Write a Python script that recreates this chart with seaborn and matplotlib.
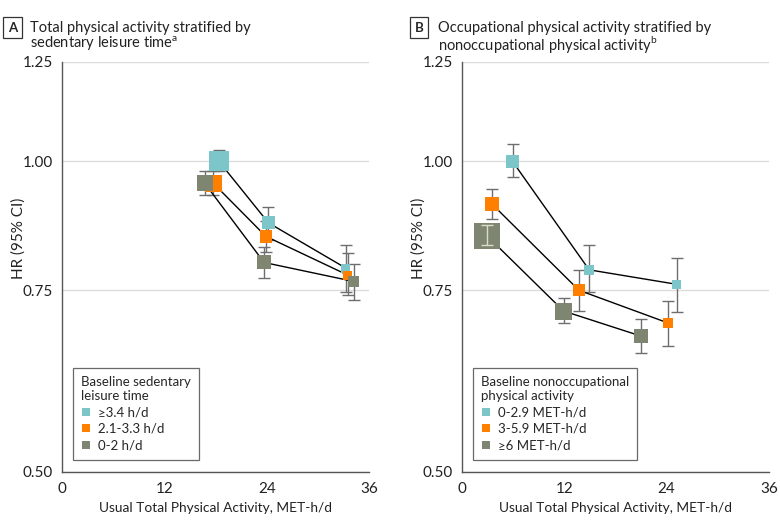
"""Hazard ratios by usual physical activity, two stratified panels."""

import matplotlib
matplotlib.use("Agg")
import matplotlib.pyplot as plt
from matplotlib.lines import Line2D
from matplotlib.ticker import FixedLocator, FixedFormatter, NullLocator
import pandas as pd
import seaborn as sns

# ---- Panel A: total physical activity by sedentary leisure time ----
a_groups = ["≥3.4 h/d", "2.1-3.3 h/d", "0-2 h/d"]
a_x = [
    [18.4, 24.2, 33.3],
    [17.7, 23.9, 33.5],
    [16.7, 23.7, 34.2],
]
a_hr = [
    [1.00, 0.872, 0.788],
    [0.953, 0.846, 0.776],
    [0.953, 0.798, 0.765],
]
a_lo = [
    [0.978, 0.840, 0.747],
    [0.927, 0.817, 0.742],
    [0.927, 0.771, 0.734],
]
a_hi = [
    [1.025, 0.904, 0.830],
    [0.979, 0.875, 0.815],
    [0.979, 0.826, 0.795],
]
a_weight = [  # relative weight, drawn as marker side
    [20, 13, 9],
    [17, 12.5, 9],
    [16, 14, 11],
]

# ---- Panel B: occupational activity by nonoccupational activity ----
b_groups = ["0-2.9 MET-h/d", "3-5.9 MET-h/d", "≥6 MET-h/d"]
b_x = [
    [5.9, 14.9, 25.2],
    [3.5, 13.7, 24.2],
    [2.9, 11.9, 21.0],
]
b_hr = [
    [1.00, 0.785, 0.760],
    [0.909, 0.750, 0.697],
    [0.847, 0.716, 0.677],
]
b_lo = [
    [0.966, 0.747, 0.715],
    [0.880, 0.716, 0.662],
    [0.829, 0.697, 0.652],
]
b_hi = [
    [1.040, 0.829, 0.806],
    [0.941, 0.784, 0.733],
    [0.868, 0.737, 0.703],
]
b_weight = [
    [13, 10, 9],
    [14, 12, 10],
    [26, 17, 14],
]

colors = ["#7cc5c9", "#ff7f00", "#7e8570"]
y_ticks = [0.50, 0.75, 1.00, 1.25]
x_ticks = [0, 12, 24, 36]


def build_frame(groups, xs, hrs, los, his, weights):
    rows = []
    for g, name in enumerate(groups):
        for i in range(len(xs[g])):
            rows.append({
                "group": name, "x": xs[g][i], "hr": hrs[g][i],
                "lo": los[g][i], "hi": his[g][i],
                # marker side in px -> scatter area in pt^2
                "area": (weights[g][i] * 0.72) ** 2,
            })
    return pd.DataFrame(rows)


def draw_panel(ax, df, groups, legend_title):
    for name in groups:
        sub = df[df["group"] == name]
        ax.errorbar(sub["x"], sub["hr"],
                    yerr=[sub["hr"] - sub["lo"], sub["hi"] - sub["hr"]],
                    fmt="none", ecolor="#6e6e6e", elinewidth=1.0,
                    capsize=4, capthick=1.0, zorder=2)
    sns.lineplot(data=df, x="x", y="hr", units="group", estimator=None,
                 color="black", lw=1.0, sort=False, ax=ax, zorder=3)
    amin, amax = df["area"].min(), df["area"].max()
    sns.scatterplot(data=df, x="x", y="hr", hue="group", hue_order=groups,
                    palette=colors, size="area", sizes=(amin, amax),
                    size_norm=(amin, amax), marker="s", linewidth=0,
                    alpha=1, legend=False, ax=ax, zorder=4)

    ax.set_yscale("log")
    ax.set_ylim(0.5, 1.25)
    ax.set_xlim(0, 36)
    ax.yaxis.set_major_locator(FixedLocator(y_ticks))
    ax.yaxis.set_major_formatter(FixedFormatter([f"{t:.2f}" for t in y_ticks]))
    ax.yaxis.set_minor_locator(NullLocator())
    ax.set_xticks(x_ticks)
    ax.set_xticklabels([str(t) for t in x_ticks])
    ax.grid(axis="y", color="#dcdcdc", lw=1.0)
    ax.grid(axis="x", visible=False)
    ax.set_axisbelow(True)
    for s in ["top", "right"]:
        ax.spines[s].set_visible(False)
    for s in ["left", "bottom"]:
        ax.spines[s].set_color("#555555")
        ax.spines[s].set_linewidth(1.0)
    ax.tick_params(axis="both", colors="#555555", labelcolor="#222222",
                   length=5, width=1.0, labelsize=11, direction="out", pad=2)
    ax.set_xlabel("Usual Total Physical Activity, MET-h/d", fontsize=9.9,
                  color="#222222", labelpad=5)
    ax.set_ylabel("HR (95% CI)", fontsize=11, color="#222222")
    ax.yaxis.set_label_coords(-0.12, 0.57)

    handles = [Line2D([], [], marker="s", ls="none", markersize=6,
                      markerfacecolor=c, markeredgewidth=0, label=g)
               for g, c in zip(groups, colors)]
    leg = ax.legend(handles=handles, title=legend_title, loc="lower left",
                    bbox_to_anchor=(0.035, 0.03), frameon=True, fancybox=False,
                    edgecolor="#444444", fontsize=9.5, title_fontsize=9.5,
                    handlelength=0.7, handletextpad=0.6, labelspacing=0.35,
                    borderpad=0.6, borderaxespad=0.0, alignment="left")
    leg.get_frame().set_linewidth(0.9)
    leg.get_title().set_linespacing(1.15)


sns.set_theme(style="white")
plt.rcParams["font.family"] = ["Lato", "DejaVu Sans"]

fig = plt.figure(figsize=(7.8, 5.26), dpi=100)
ax_a = fig.add_axes([0.0799, 0.103, 0.393, 0.780])
ax_b = fig.add_axes([0.5927, 0.103, 0.393, 0.780])

df_a = build_frame(a_groups, a_x, a_hr, a_lo, a_hi, a_weight)
df_b = build_frame(b_groups, b_x, b_hr, b_lo, b_hi, b_weight)
draw_panel(ax_a, df_a, a_groups, "Baseline sedentary\nleisure time")
draw_panel(ax_b, df_b, b_groups, "Baseline nonoccupational\nphysical activity")

# pale whisker drawn over the large gray marker in panel B, as in the source
big = df_b.loc[df_b["area"].idxmax()]
ax_b.errorbar([big["x"]], [big["hr"]],
              yerr=[[big["hr"] - big["lo"]], [big["hi"] - big["hr"]]],
              fmt="none", ecolor="#d8dccd", elinewidth=1.0, capsize=4,
              capthick=1.0, zorder=5)

box = dict(boxstyle="square,pad=0.35", fc="white", ec="#333333", lw=0.9)
fig.text(0.0163, 0.947, "A", fontsize=9.5, fontweight="bold", ha="center",
         va="center", bbox=box)
fig.text(0.0385, 0.960,
         "Total physical activity stratified by\nsedentary leisure time$^\\mathregular{a}$",
         fontsize=10.5, va="top", ha="left", color="#222222", linespacing=0.95)
fig.text(0.5370, 0.947, "B", fontsize=9.5, fontweight="bold", ha="center",
         va="center", bbox=box)
fig.text(0.5620, 0.960,
         "Occupational physical activity stratified by\nnonoccupational physical activity$^\\mathregular{b}$",
         fontsize=10.5, va="top", ha="left", color="#222222", linespacing=0.95)

fig.savefig("out.png", dpi=100)
